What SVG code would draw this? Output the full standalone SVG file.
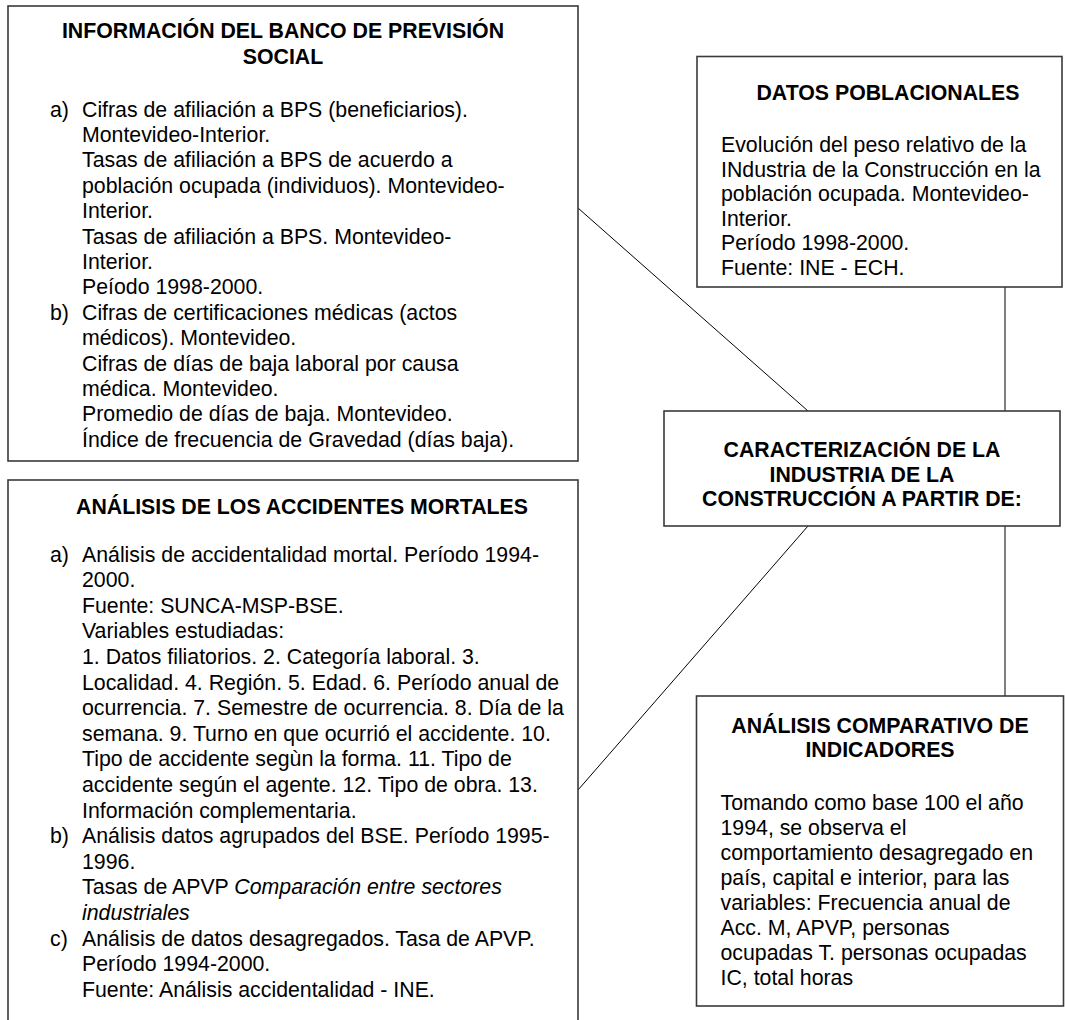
<svg xmlns="http://www.w3.org/2000/svg" width="1065" height="1020" viewBox="0 0 1065 1020">
<style>
.box{fill:#fff;stroke:#3a3a3a;stroke-width:1.6}
.t{font-family:"Liberation Sans",Arial,sans-serif;font-size:21.3px;fill:#000}
.h{font-family:"Liberation Sans",Arial,sans-serif;font-size:21.3px;font-weight:bold;fill:#000;text-anchor:middle}
.c{stroke:#000;stroke-width:1;fill:none}
</style>
<rect width="1065" height="1020" fill="#fff"/>
<g id="connectors">
<line class="c" x1="578" y1="208" x2="808" y2="411"/>
<line class="c" x1="578" y1="790" x2="808" y2="526"/>
<line class="c" x1="1005" y1="287" x2="1005" y2="411"/>
<line class="c" x1="1005" y1="526" x2="1005" y2="696"/>
</g>
<g id="bps">
<rect class="box" x="8" y="6" width="570" height="455"/>
<text class="h" x="283" y="38">INFORMACIÓN DEL BANCO DE PREVISIÓN</text>
<text class="h" x="283" y="64">SOCIAL</text>
<text class="t" x="50" y="116.5">a)</text>
<text class="t" x="50" y="319.7">b)</text>
<text class="t" x="82" y="116.5">Cifras de afiliación a BPS (beneficiarios).</text>
<text class="t" x="82" y="141.9">Montevideo-Interior.</text>
<text class="t" x="82" y="167.3">Tasas de afiliación a BPS de acuerdo a</text>
<text class="t" x="82" y="192.7">población ocupada (individuos). Montevideo-</text>
<text class="t" x="82" y="218.1">Interior.</text>
<text class="t" x="82" y="243.5">Tasas de afiliación a BPS. Montevideo-</text>
<text class="t" x="82" y="268.9">Interior.</text>
<text class="t" x="82" y="294.3">Peíodo 1998-2000.</text>
<text class="t" x="82" y="319.7">Cifras de certificaciones médicas (actos</text>
<text class="t" x="82" y="345.1">médicos). Montevideo.</text>
<text class="t" x="82" y="370.5">Cifras de días de baja laboral por causa</text>
<text class="t" x="82" y="395.9">médica. Montevideo.</text>
<text class="t" x="82" y="421.3">Promedio de días de baja. Montevideo.</text>
<text class="t" x="82" y="446.7">Índice de frecuencia de Gravedad (días baja).</text>
</g>
<g id="accidentes">
<rect class="box" x="8" y="480" width="570" height="560"/>
<text class="h" x="302" y="514">ANÁLISIS DE LOS ACCIDENTES MORTALES</text>
<text class="t" x="50" y="561.5">a)</text>
<text class="t" x="50" y="843.1">b)</text>
<text class="t" x="50" y="945.5">c)</text>
<text class="t" x="82" y="561.5">Análisis de accidentalidad mortal. Período 1994-</text>
<text class="t" x="82" y="587.1">2000.</text>
<text class="t" x="82" y="612.7">Fuente: SUNCA-MSP-BSE.</text>
<text class="t" x="82" y="638.3">Variables estudiadas:</text>
<text class="t" x="82" y="663.9">1. Datos filiatorios. 2. Categoría laboral. 3.</text>
<text class="t" x="82" y="689.5">Localidad. 4. Región. 5. Edad. 6. Período anual de</text>
<text class="t" x="82" y="715.1">ocurrencia. 7. Semestre de ocurrencia. 8. Día de la</text>
<text class="t" x="82" y="740.7">semana. 9. Turno en que ocurrió el accidente. 10.</text>
<text class="t" x="82" y="766.3">Tipo de accidente segùn la forma. 11. Tipo de</text>
<text class="t" x="82" y="791.9">accidente según el agente. 12. Tipo de obra. 13.</text>
<text class="t" x="82" y="817.5">Información complementaria.</text>
<text class="t" x="82" y="843.1">Análisis datos agrupados del BSE. Período 1995-</text>
<text class="t" x="82" y="868.7">1996.</text>
<text class="t" x="82" y="894.3">Tasas de APVP <tspan font-style="italic">Comparación entre sectores</tspan></text>
<text class="t" x="82" y="919.9" font-style="italic">industriales</text>
<text class="t" x="82" y="945.5">Análisis de datos desagregados. Tasa de APVP.</text>
<text class="t" x="82" y="971.1">Período 1994-2000.</text>
<text class="t" x="82" y="996.7">Fuente: Análisis accidentalidad - INE.</text>
</g>
<g id="poblacionales">
<rect class="box" x="697" y="56.5" width="365" height="230.5"/>
<text class="h" x="888" y="100">DATOS POBLACIONALES</text>
<text class="t" x="721" y="152">Evolución del peso relativo de la</text>
<text class="t" x="721" y="176.5">INdustria de la Construcción en la</text>
<text class="t" x="721" y="201">población ocupada. Montevideo-</text>
<text class="t" x="721" y="225.5">Interior.</text>
<text class="t" x="721" y="250">Período 1998-2000.</text>
<text class="t" x="721" y="274.5">Fuente: INE - ECH.</text>
</g>
<g id="caracterizacion">
<rect class="box" x="664" y="411" width="396" height="115"/>
<text class="h" x="862" y="457">CARACTERIZACIÓN DE LA</text>
<text class="h" x="862" y="481.5">INDUSTRIA DE LA</text>
<text class="h" x="862" y="506">CONSTRUCCIÓN A PARTIR DE:</text>
</g>
<g id="comparativo">
<rect class="box" x="696.5" y="696" width="367" height="310"/>
<text class="h" x="880" y="733">ANÁLISIS COMPARATIVO DE</text>
<text class="h" x="880" y="756.5">INDICADORES</text>
<text class="t" x="720.5" y="810">Tomando como base 100 el año</text>
<text class="t" x="720.5" y="835">1994, se observa el</text>
<text class="t" x="720.5" y="860">comportamiento desagregado en</text>
<text class="t" x="720.5" y="885">país, capital e interior, para las</text>
<text class="t" x="720.5" y="910">variables: Frecuencia anual de</text>
<text class="t" x="720.5" y="935">Acc. M, APVP, personas</text>
<text class="t" x="720.5" y="960">ocupadas T. personas ocupadas</text>
<text class="t" x="720.5" y="985">IC, total horas</text>
</g>
</svg>
